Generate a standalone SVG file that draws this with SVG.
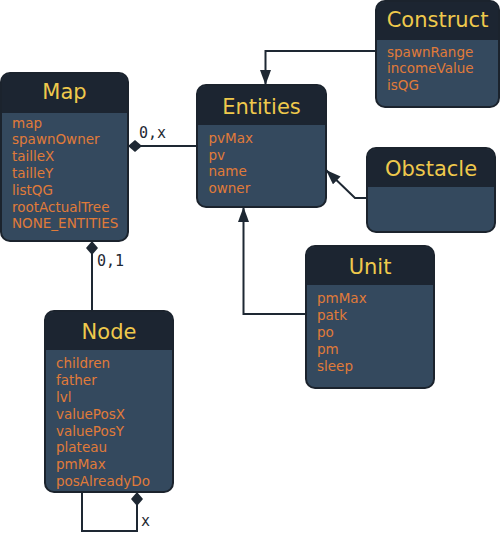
<svg xmlns="http://www.w3.org/2000/svg" width="504" height="533" viewBox="0 0 504 533">
<style>
.body{fill:#34495e;stroke:#1b232d;stroke-width:2}
.head{fill:#1c2531}
.title{font-family:"DejaVu Sans",sans-serif;font-size:21px;fill:#efc94c;text-anchor:middle}
.attr{font-family:"DejaVu Sans",sans-serif;font-size:13.5px;fill:#e07b39}
.edge{fill:none;stroke:#1e2833;stroke-width:2}
.lbl{font-family:"DejaVu Sans Mono",monospace;font-size:15px;fill:#1e2833}
</style>
<defs>
<marker id="arrow" markerUnits="userSpaceOnUse" markerWidth="15" markerHeight="11" refX="15" refY="5.5" orient="auto" viewBox="0 0 15 11"><path d="M0,0 L15,5.5 L0,11 z" fill="#1e2833"/></marker>
<marker id="diamond" markerUnits="userSpaceOnUse" markerWidth="14" markerHeight="12" refX="0" refY="6" orient="auto" viewBox="0 0 14 12"><path d="M0,6 L7,0 L14,6 L7,12 z" fill="#1e2833"/></marker>
</defs>
<g id="connectors">
<path class="edge" d="M128,146 H197" marker-start="url(#diamond)"/>
<text class="lbl" x="139" y="138">0,x</text>
<path class="edge" d="M92,241 V311" marker-start="url(#diamond)"/>
<text class="lbl" x="97" y="266">0,1</text>
<path class="edge" d="M137,492 V531 H82 V492" marker-start="url(#diamond)"/>
<text class="lbl" x="141" y="526">x</text>
<path class="edge" d="M376,51 H265.5 V85" marker-end="url(#arrow)"/>
<path class="edge" d="M367,198 H355 L326,170" marker-end="url(#arrow)"/>
<path class="edge" d="M306,314 H243.5 V207" marker-end="url(#arrow)"/>
</g>
<g id="Map">
<rect class="body" x="1" y="73" width="127" height="168" rx="9"/>
<path class="head" d="M2,113 V82 Q2,74 10,74 H119 Q127,74 127,82 V113 Z"/>
<text class="title" x="64.5" y="99">Map</text>
<text class="attr" x="12" y="127.5">map</text>
<text class="attr" x="12" y="144.3">spawnOwner</text>
<text class="attr" x="12" y="161.1">tailleX</text>
<text class="attr" x="12" y="177.9">tailleY</text>
<text class="attr" x="12" y="194.7">listQG</text>
<text class="attr" x="12" y="211.5">rootActualTree</text>
<text class="attr" x="12" y="228.3">NONE_ENTITIES</text>
</g>
<g id="Entities">
<rect class="body" x="197" y="85" width="129" height="122" rx="9"/>
<path class="head" d="M198,125 V94 Q198,86 206,86 H317 Q325,86 325,94 V125 Z"/>
<text class="title" x="261.5" y="113.5">Entities</text>
<text class="attr" x="208.5" y="142.7">pvMax</text>
<text class="attr" x="208.5" y="159.5">pv</text>
<text class="attr" x="208.5" y="176.3">name</text>
<text class="attr" x="208.5" y="193.1">owner</text>
</g>
<g id="Construct">
<rect class="body" x="376" y="1" width="123" height="106" rx="9"/>
<path class="head" d="M377,40 V10 Q377,2 385,2 H490 Q498,2 498,10 V40 Z"/>
<text class="title" x="437.5" y="27">Construct</text>
<text class="attr" x="387" y="56.5">spawnRange</text>
<text class="attr" x="387" y="73.3">incomeValue</text>
<text class="attr" x="387" y="90.1">isQG</text>
</g>
<g id="Obstacle">
<rect class="body" x="367" y="148" width="128" height="84" rx="9"/>
<path class="head" d="M368,187 V157 Q368,149 376,149 H486 Q494,149 494,157 V187 Z"/>
<text class="title" x="431" y="176">Obstacle</text>
</g>
<g id="Unit">
<rect class="body" x="306" y="246" width="128" height="142" rx="9"/>
<path class="head" d="M307,285 V255 Q307,247 315,247 H425 Q433,247 433,255 V285 Z"/>
<text class="title" x="370" y="274">Unit</text>
<text class="attr" x="317" y="303.3">pmMax</text>
<text class="attr" x="317" y="320.1">patk</text>
<text class="attr" x="317" y="336.9">po</text>
<text class="attr" x="317" y="353.7">pm</text>
<text class="attr" x="317" y="370.5">sleep</text>
</g>
<g id="Node">
<rect class="body" x="45" y="311" width="128" height="181" rx="9"/>
<path class="head" d="M46,350 V320 Q46,312 54,312 H164 Q172,312 172,320 V350 Z"/>
<text class="title" x="109" y="338.5">Node</text>
<text class="attr" x="56" y="368.3">children</text>
<text class="attr" x="56" y="385.1">father</text>
<text class="attr" x="56" y="401.9">lvl</text>
<text class="attr" x="56" y="418.7">valuePosX</text>
<text class="attr" x="56" y="435.5">valuePosY</text>
<text class="attr" x="56" y="452.3">plateau</text>
<text class="attr" x="56" y="469.1">pmMax</text>
<text class="attr" x="56" y="485.9">posAlreadyDo</text>
</g>
</svg>
